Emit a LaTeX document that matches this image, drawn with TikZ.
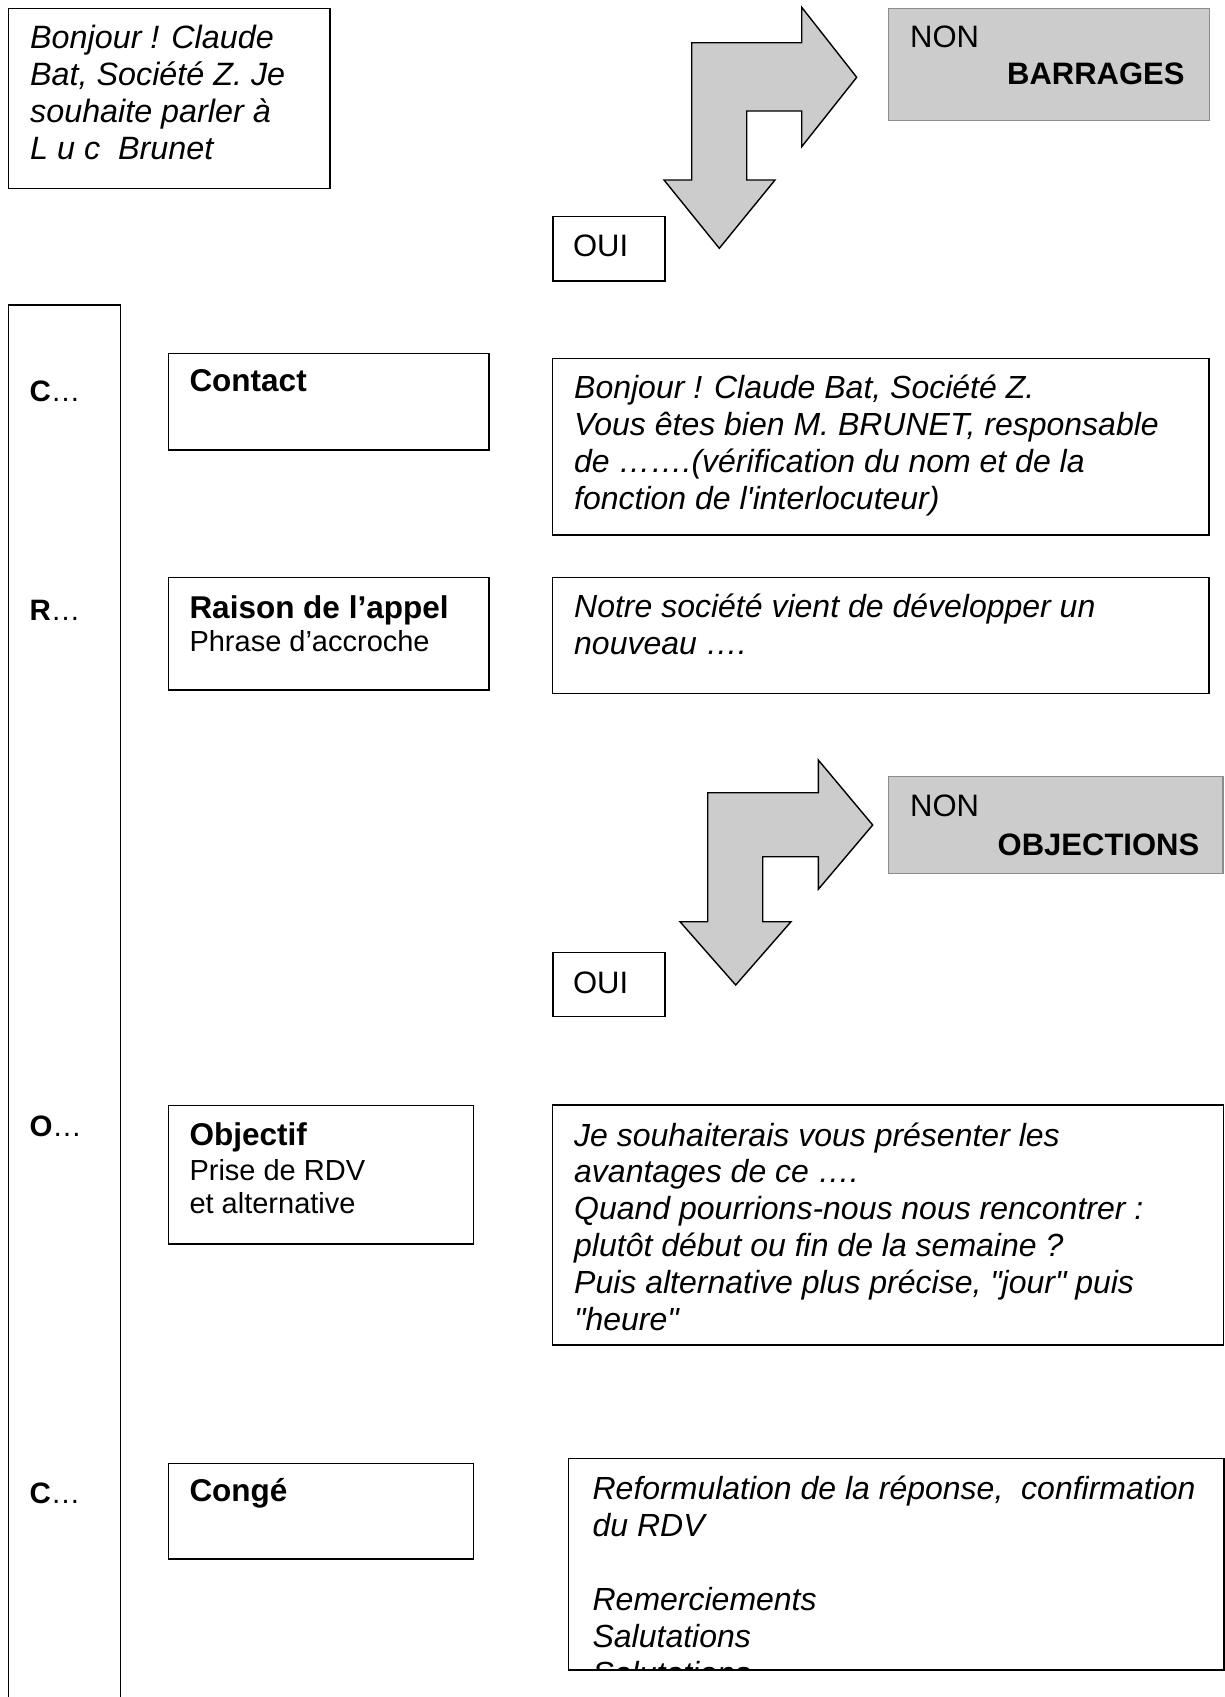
\documentclass[tikz,border=0pt]{standalone}
\usepackage{fontspec}
\setmainfont{Liberation Sans}[Ligatures=TeXOff]
\definecolor{boxgray}{HTML}{CCCCCC}
\definecolor{edgegray}{HTML}{8C8C8C}
\newcommand{\ml}[2]{\vtop{\baselineskip=#1pt\lineskiplimit=-1000pt\lineskip=0pt\relax #2}}
\tikzset{
  frame/.style={draw=black, line width=1.5pt, inner sep=0pt, outer sep=0pt, anchor=north west},
  grayframe/.style={draw=edgegray, fill=boxgray, line width=1.5pt, inner sep=0pt, outer sep=0pt, anchor=north west},
  arrowshape/.style={draw=black, fill=boxgray, line width=1.4pt, line join=miter},
  itxt/.style={inner sep=0pt, anchor=base west, font=\fontsize{32}{36.8}\selectfont\itshape},
  headtxt/.style={inner sep=0pt, anchor=base west, font=\fontsize{31.5}{36}\selectfont\bfseries},
  subtxt/.style={inner sep=0pt, anchor=base west, font=\fontsize{29}{34}\selectfont},
  lbltxt/.style={inner sep=0pt, anchor=base west, font=\fontsize{29.5}{34}\selectfont},
  yntxt/.style={inner sep=0pt, anchor=base west, font=\fontsize{31}{36}\selectfont},
}
\begin{document}
\begin{tikzpicture}[x=1pt,y=-1pt]
\useasboundingbox (0,0) rectangle (1225,1697);
\fill[white] (0,0) rectangle (1225,1697);

% intro box
\node[frame, minimum width=321.7pt, minimum height=180pt] (intro) at (8.3,8.3) {};
\node[itxt, font=\fontsize{32.3}{36.8}\selectfont\itshape] (introtxt) at (30,48.8) {\ml{36.8}{\hbox{Bonjour ! Claude}\hbox{Bat, Société Z. Je}\hbox{souhaite parler à}\hbox{L u c\ \ Brunet}}};

% arrow 1
\draw[arrowshape] (691.7,42.7) -- (801.7,42.7) -- (801.7,7.3) -- (856.7,77.3) -- (801.7,146.7) -- (801.7,111) -- (746.7,111) -- (746.7,180) -- (775,180) -- (719.3,248.3) -- (664,180) -- (691.7,180) -- cycle;

% NON BARRAGES
\node[grayframe, minimum width=321pt, minimum height=112.4pt] (non1) at (888.3,8.3) {};
\node[yntxt] (non1a) at (910,47) {NON};
\node[yntxt, font=\fontsize{31}{36}\selectfont\bfseries] (non1b) at (1007,84) {BARRAGES};

% OUI 1
\node[frame, minimum width=112pt, minimum height=64.3pt] (oui1) at (553,216.7) {};
\node[yntxt] (oui1t) at (572.8,256.7) {OUI};

% left bar
\draw[line width=1.5pt] (8.3,1700) |- (120.7,305) -- (120.7,1700);

% Contact row
\node[lbltxt] (lc1) at (29.3,401) {\textbf{C}…};
\node[frame, minimum width=320.7pt, minimum height=96.7pt] (contactL) at (168.3,353.3) {};
\node[headtxt] (contactLt) at (189.3,391.7) {Contact};
\node[frame, minimum width=656.5pt, minimum height=176.7pt] (contactR) at (552.5,358.3) {};
\node[itxt] (contactRt) at (574,398.5) {\ml{37}{\hbox{Bonjour ! Claude Bat, Société Z.}\hbox{Vous êtes bien M. BRUNET, responsable}\hbox{de …….(vérification du nom et de la}\hbox{fonction de l'interlocuteur)}}};

% Raison row
\node[lbltxt] (lr) at (29.3,620) {\textbf{R}…};
\node[frame, minimum width=320.7pt, minimum height=112.7pt] (raisonL) at (168.3,577.3) {};
\node[headtxt] (raisonLt) at (189.3,618.3) {Raison de l’appel};
\node[subtxt] (raisonLs) at (189.3,651.7) {Phrase d’accroche};
\node[frame, minimum width=656.5pt, minimum height=116pt] (raisonR) at (552.5,577.5) {};
\node[itxt] (raisonRt) at (574,617.5) {\ml{36.8}{\hbox{Notre société vient de développer un}\hbox{nouveau ….}}};

% arrow 2
\draw[arrowshape] (707.7,792.7) -- (818.3,792.7) -- (818.3,760) -- (872.7,825) -- (818.3,889.3) -- (818.3,856.7) -- (762.7,856.7) -- (762.7,921.7) -- (791,921.7) -- (735.7,985) -- (680,921.7) -- (707.7,921.7) -- cycle;

% NON OBJECTIONS
\node[grayframe, minimum width=334.7pt, minimum height=96.6pt] (non2) at (888.3,776.7) {};
\node[yntxt] (non2a) at (910,816) {NON};
\node[yntxt, font=\fontsize{31}{36}\selectfont\bfseries] (non2b) at (997.5,855) {OBJECTIONS};

% OUI 2
\node[frame, minimum width=112pt, minimum height=64pt] (oui2) at (553,952.7) {};
\node[yntxt] (oui2t) at (572.8,993.5) {OUI};

% Objectif row
\node[lbltxt] (lo) at (29.3,1136.2) {\textbf{O}…};
\node[frame, minimum width=305pt, minimum height=138.3pt] (objL) at (168.3,1105.7) {};
\node[headtxt] (objLt) at (189.3,1145.7) {Objectif};
\node[subtxt] (objLs) at (189.3,1180) {\ml{33.5}{\hbox{Prise de RDV}\hbox{et alternative}}};
\node[frame, minimum width=671pt, minimum height=240pt] (objR) at (552.5,1105) {};
\node[itxt] (objRt) at (574,1146) {\ml{36.8}{\hbox{Je souhaiterais vous présenter les}\hbox{avantages de ce ….}\hbox{Quand pourrions-nous nous rencontrer :}\hbox{plutôt début ou fin de la semaine ?}\hbox{Puis alternative plus précise, "jour" puis}\hbox{"heure"}}};

% Conge row
\node[lbltxt] (lc2) at (29.3,1503.7) {\textbf{C}…};
\node[frame, minimum width=305pt, minimum height=95.2pt] (congeL) at (168.3,1463.7) {};
\node[headtxt] (congeLt) at (189.3,1501.8) {Congé};
\begin{scope}
\clip (569.2,1459) rectangle (1223.5,1669.2);
\node[itxt] (congeRt) at (592.4,1499.5) {\ml{37}{\hbox{Reformulation de la réponse,\ \ confirmation}\hbox{du RDV}\hbox{}\hbox{Remerciements}\hbox{Salutations}\hbox{Salutations}}};
\end{scope}
\node[frame, minimum width=655.6pt, minimum height=211.7pt] (congeR) at (568.4,1458.3) {};
\end{tikzpicture}
\end{document}
